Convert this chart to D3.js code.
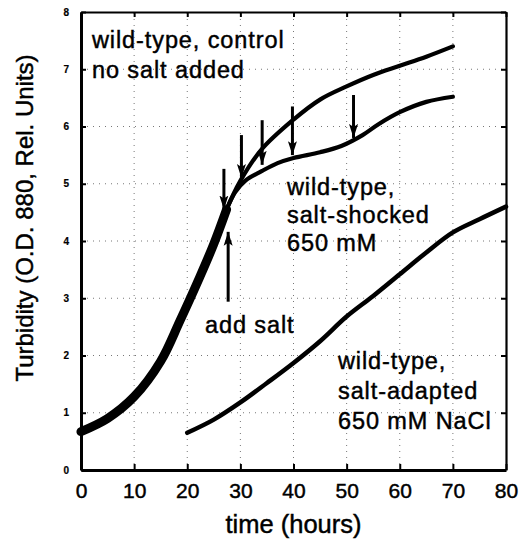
<!DOCTYPE html>
<html>
    <head>
        <meta charset="UTF-8">
        <title>Turbidity</title>
        <style>
            body { margin: 0; background: #fff; }
            text { font-family: "Liberation Sans", Arial, sans-serif; fill: #000; stroke: #000; stroke-width: 0.45px; }
            .grid line { stroke: #777; stroke-width: 1; stroke-dasharray: 1,5; }
            .curve { fill: none; stroke: #000; stroke-linecap: round; stroke-linejoin: round; }
            .note { font-size: 23.5px; letter-spacing: 0.9px; }
        </style>
    </head>
    <body>
        <svg id="chart"></svg>
        <script src="https://d3js.org/d3.v7.min.js"></script>
    <script>
        // values (time in hours, turbidity in rel. units)
        var controlTimes  = [0, 5, 10, 15, 18.6, 22.4, 25, 27.4, 30, 34, 40, 45, 50, 55, 60, 65, 70];
        var controlValues = [0.67, 0.9, 1.28, 1.9, 2.6, 3.38, 3.95, 4.55, 5.05, 5.6, 6.12, 6.47, 6.7, 6.9, 7.06, 7.22, 7.4];

        var shockTimes  = [27.4, 29, 31, 34, 37, 40, 45, 49, 53, 56, 60, 65, 70];
        var shockValues = [4.55, 4.85, 5.06, 5.22, 5.36, 5.45, 5.55, 5.66, 5.85, 6.04, 6.25, 6.43, 6.52];

        var adaptedTimes  = [20, 25, 30, 35, 40, 45, 50, 55, 60, 65, 70, 75, 80];
        var adaptedValues = [0.65, 0.88, 1.18, 1.52, 1.87, 2.25, 2.68, 3.04, 3.42, 3.8, 4.15, 4.38, 4.6];

        // overlapping replicate curves before the shock (drawn thick)
        var shockStart = 28;

        // down arrows marking salt additions
        var arrowTimes = [26.9, 30.2, 34.1, 39.8, 51.3];
        var arrowTops  = [5.26, 5.85, 6.11, 6.35, 6.55];
        var arrowTips  = [4.55, 5.1, 5.33, 5.5, 5.8];

        // "add salt" up arrow
        var addSaltTime = 27.7, addSaltFrom = 2.94, addSaltTo = 4.16;

        var xTicks = [0, 10, 20, 30, 40, 50, 60, 70, 80];
        var yTicks = [0, 1, 2, 3, 4, 5, 6, 7, 8];

        var vWidth = 519, vHeight = 544;
        var pLeft = 81, pRight = 506, pTop = 12, pBottom = 470;

        var svg = d3.select('#chart').attr('width', vWidth).attr('height', vHeight);

        var x = d3.scaleLinear().domain([0, 80]).range([pLeft, pRight]);
        var y = d3.scaleLinear().domain([0, 8]).range([pBottom, pTop]);

        // dotted grid
        var grid = svg.append('g').attr('class', 'grid');
        grid.selectAll('.gx').data(xTicks.slice(1, -1)).enter().append('line')
            .attr('x1', function (d) { return x(d); }).attr('x2', function (d) { return x(d); })
            .attr('y1', y(0)).attr('y2', y(8));
        grid.selectAll('.gy').data(yTicks.slice(1, -1)).enter().append('line')
            .attr('y1', function (d) { return y(d); }).attr('y2', function (d) { return y(d); })
            .attr('x1', x(0)).attr('x2', x(80));

        // axes, ticks pointing inward
        var gB = svg.append('g').attr('transform', 'translate(0,' + pBottom + ')')
            .call(d3.axisBottom(x).tickValues(xTicks).tickSize(-6).tickSizeOuter(0));
        gB.selectAll('text').attr('y', 28).attr('dy', null).style('font-size', '21px');

        var gL = svg.append('g').attr('transform', 'translate(' + pLeft + ',0)')
            .call(d3.axisLeft(y).tickValues(yTicks).tickSize(-5).tickSizeOuter(0));
        gL.selectAll('text').attr('x', -12).style('font-size', '10px').style('font-weight', 'bold')
            .style('stroke-width', '0.2px');

        svg.append('g').attr('transform', 'translate(0,' + pTop + ')')
            .call(d3.axisTop(x).tickValues(xTicks).tickSize(-5).tickSizeOuter(0).tickFormat(''));
        svg.append('g').attr('transform', 'translate(' + pRight + ',0)')
            .call(d3.axisRight(y).tickValues(yTicks).tickSize(-5).tickSizeOuter(0).tickFormat(''));

        svg.selectAll('.domain').attr('stroke', '#000').attr('stroke-width', 2.2);
        gB.select('.domain').attr('stroke-width', 3);
        gL.select('.domain').attr('stroke-width', 3);
        svg.selectAll('.tick line').attr('stroke', '#000').attr('stroke-width', 2);

        // curves
        var line = d3.line()
            .x(function (d) { return x(d[0]); })
            .y(function (d) { return y(d[1]); })
            .curve(d3.curveCatmullRom.alpha(0.5));

        var control = d3.zip(controlTimes, controlValues);
        var shocked = d3.zip(shockTimes, shockValues);
        var adapted = d3.zip(adaptedTimes, adaptedValues);
        var early = control.filter(function (d) { return d[0] <= shockStart; });

        svg.append('path').attr('class', 'curve').attr('d', line(control)).attr('stroke-width', 4.2);
        svg.append('path').attr('class', 'curve').attr('d', line(shocked)).attr('stroke-width', 4.2);
        svg.append('path').attr('class', 'curve').attr('d', line(early)).attr('stroke-width', 9);
        svg.append('path').attr('class', 'curve').attr('d', line(adapted)).attr('stroke-width', 4.5);

        // arrows
        svg.append('defs').append('marker')
            .attr('id', 'head').attr('markerUnits', 'userSpaceOnUse')
            .attr('viewBox', '0 -5 14 10').attr('refX', 14).attr('refY', 0)
            .attr('markerWidth', 14).attr('markerHeight', 10).attr('orient', 'auto')
            .append('path').attr('d', 'M0,-4.5L14,0L0,4.5L3,0Z').attr('fill', '#000');

        var arrows = d3.zip(arrowTimes, arrowTops, arrowTips);
        svg.selectAll('.arrow').data(arrows).enter().append('line')
            .attr('class', 'arrow')
            .attr('x1', function (d) { return x(d[0]); }).attr('x2', function (d) { return x(d[0]); })
            .attr('y1', function (d) { return y(d[1]); }).attr('y2', function (d) { return y(d[2]); })
            .attr('stroke', '#000').attr('stroke-width', 3).attr('marker-end', 'url(#head)');

        svg.append('line')
            .attr('x1', x(addSaltTime)).attr('x2', x(addSaltTime))
            .attr('y1', y(addSaltFrom)).attr('y2', y(addSaltTo))
            .attr('stroke', '#000').attr('stroke-width', 3).attr('marker-end', 'url(#head)');

        // annotations
        function note(px, py, lines, gap) {
            var t = svg.append('text').attr('class', 'note').attr('x', px).attr('y', py);
            lines.forEach(function (s, i) {
                t.append('tspan').attr('x', px).attr('dy', i === 0 ? 0 : gap).text(s);
            });
        }
        note(92, 48, ['wild-type, control', 'no salt added'], 30);
        note(287, 195, ['wild-type,', 'salt-shocked', '650 mM'], 28);
        note(205, 333, ['add salt'], 0);
        note(338, 369, ['wild-type,', 'salt-adapted', '650 mM NaCl'], 30);

        // axis titles
        svg.append('text').attr('x', (pLeft + pRight) / 2).attr('y', 533)
            .attr('text-anchor', 'middle').style('font-size', '25.5px').text('time (hours)');
        svg.append('text').attr('transform', 'translate(33,218) rotate(-90)')
            .attr('text-anchor', 'middle').style('font-size', '24px')
            .text('Turbidity (O.D. 880, Rel. Units)');
    </script>
    </body>
</html>
